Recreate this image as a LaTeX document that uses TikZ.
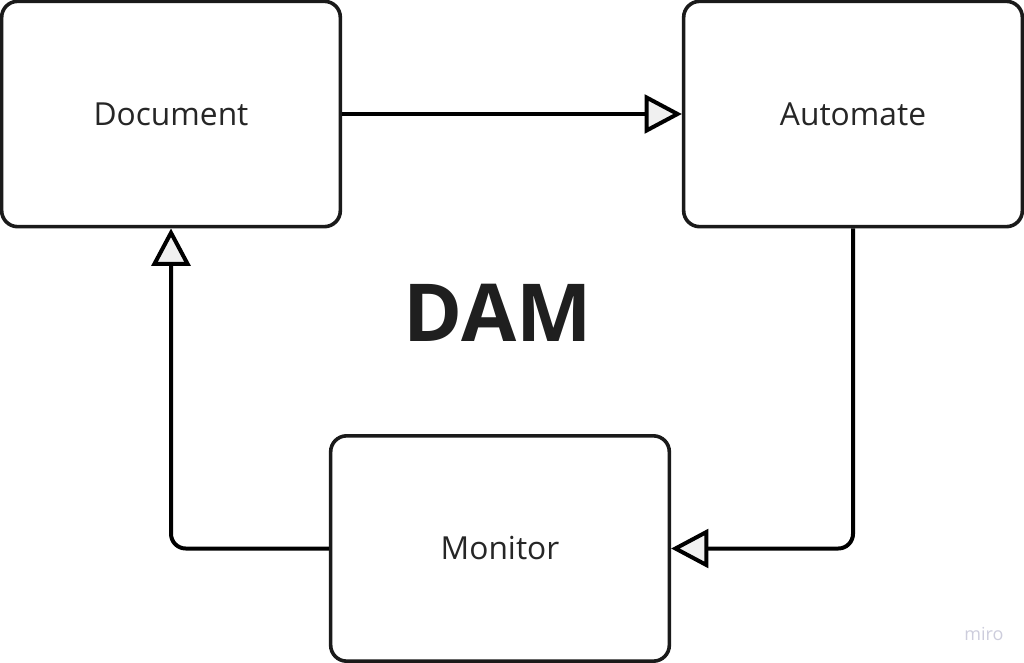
\documentclass[tikz,border=0pt]{standalone}
\usepackage{fontspec}
\setmainfont{Open Sans}
\usepackage{tikz}
\usetikzlibrary{arrows.meta,calc,positioning}
\definecolor{boxline}{RGB}{26,26,26}
\definecolor{tipfill}{RGB}{240,240,240}
\definecolor{mirogray}{RGB}{205,205,220}

\begin{document}
\begin{tikzpicture}[x=0.75pt,y=-0.75pt,
    stage/.style={draw=boxline,line width=2.7pt,rounded corners=12pt,fill=white,
      minimum width=254pt,minimum height=169pt,font=\fontsize{23.8}{28}\selectfont,text=black!85},
    flow/.style={line width=3pt,rounded corners=11pt,
      -{Triangle[length=28pt,width=29pt,fill=tipfill]}}]
    \useasboundingbox (0,0) rectangle (1024,663);
    \node[stage] (doc) at (171,114) {Document};
    \node[stage] (auto) at (853,114) {Automate};
    \node[stage] (mon) at (500,548.5) {Monitor};
    \node[font=\bfseries\fontsize{60}{70}\selectfont,text=black!88] (dam) at (498,313) {DAM};
    \draw[flow] (doc.east) -- (auto.west);
    \draw[flow] (auto.south) |- (mon.east);
    \draw[flow] (mon.west) -| (doc.south);
    \node[font=\fontsize{13.5}{15}\selectfont,text=mirogray] (miro) at (984,634) {miro};
\end{tikzpicture}
\end{document}
